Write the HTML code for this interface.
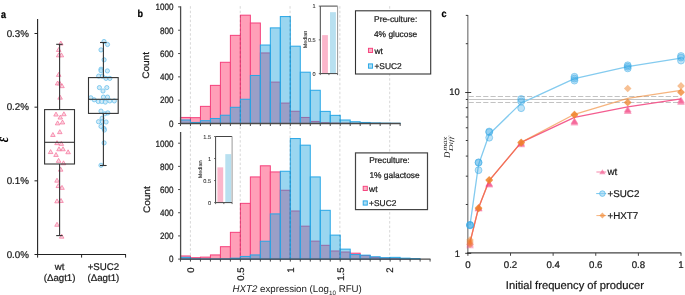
<!DOCTYPE html>
<html><head><meta charset="utf-8"><style>
html,body{margin:0;padding:0;background:#fff;}
svg{display:block;}
#w{will-change:transform;width:685px;height:295px;overflow:hidden;}
</style></head><body><div id="w">
<svg width="685" height="295" viewBox="0 0 685 295" font-family='"Liberation Sans", sans-serif' text-rendering="geometricPrecision">
<rect width="685" height="295" fill="#fff"/>
<text transform="translate(1.10,17.50) scale(1.0,1.18)" font-size="9" fill="#000" stroke="#000" stroke-width="0.22" font-weight="bold">a</text>
<line x1="37.6" y1="19" x2="37.6" y2="254.5" stroke="#222" stroke-width="1.1"/>
<line x1="37" y1="254.5" x2="126" y2="254.5" stroke="#222" stroke-width="1.1"/>
<line x1="37.6" y1="254.5" x2="37.6" y2="257.6" stroke="#222" stroke-width="1"/>
<line x1="81.6" y1="254.5" x2="81.6" y2="257.6" stroke="#222" stroke-width="1"/>
<line x1="125.6" y1="254.5" x2="125.6" y2="257.6" stroke="#222" stroke-width="1"/>
<line x1="34.5" y1="33.49" x2="37.6" y2="33.49" stroke="#222" stroke-width="1"/>
<text transform="translate(29.00,36.79)" font-size="9.8" text-anchor="end" fill="#1a1a1a" stroke="#1a1a1a" stroke-width="0.22">0.3%</text>
<line x1="34.5" y1="107.16" x2="37.6" y2="107.16" stroke="#222" stroke-width="1"/>
<text transform="translate(29.00,110.46)" font-size="9.8" text-anchor="end" fill="#1a1a1a" stroke="#1a1a1a" stroke-width="0.22">0.2%</text>
<line x1="34.5" y1="180.83" x2="37.6" y2="180.83" stroke="#222" stroke-width="1"/>
<text transform="translate(29.00,184.13)" font-size="9.8" text-anchor="end" fill="#1a1a1a" stroke="#1a1a1a" stroke-width="0.22">0.1%</text>
<line x1="34.5" y1="254.50" x2="37.6" y2="254.50" stroke="#222" stroke-width="1"/>
<text transform="translate(29.00,257.80)" font-size="9.8" text-anchor="end" fill="#1a1a1a" stroke="#1a1a1a" stroke-width="0.22">0.0%</text>
<text transform="translate(7.9,139.5) rotate(-90) scale(1,1.35)" font-size="13" font-style="italic" font-weight="bold" text-anchor="middle" fill="#000" font-family="Liberation Serif, serif">ε</text>
<text transform="translate(59.60,269.90)" font-size="9.7" text-anchor="middle" fill="#1a1a1a" stroke="#1a1a1a" stroke-width="0.22">wt</text>
<text transform="translate(59.60,280.90)" font-size="9.7" text-anchor="middle" fill="#1a1a1a" stroke="#1a1a1a" stroke-width="0.22">(Δagt1)</text>
<text transform="translate(103.40,269.90)" font-size="9.7" text-anchor="middle" fill="#1a1a1a" stroke="#1a1a1a" stroke-width="0.22">+SUC2</text>
<text transform="translate(103.40,280.90)" font-size="9.7" text-anchor="middle" fill="#1a1a1a" stroke="#1a1a1a" stroke-width="0.22">(Δagt1)</text>
<path d="M60.80,41.10 L63.08,45.06 L58.52,45.06 Z" fill="#f9c3d3" fill-opacity="0.7" stroke="#f5709a" stroke-width="0.7"/>
<path d="M58.70,47.50 L60.98,51.46 L56.42,51.46 Z" fill="#f9c3d3" fill-opacity="0.7" stroke="#f5709a" stroke-width="0.7"/>
<path d="M58.70,52.90 L60.98,56.86 L56.42,56.86 Z" fill="#f9c3d3" fill-opacity="0.7" stroke="#f5709a" stroke-width="0.7"/>
<path d="M61.40,52.90 L63.68,56.86 L59.12,56.86 Z" fill="#f9c3d3" fill-opacity="0.7" stroke="#f5709a" stroke-width="0.7"/>
<path d="M58.70,72.40 L60.98,76.36 L56.42,76.36 Z" fill="#f9c3d3" fill-opacity="0.7" stroke="#f5709a" stroke-width="0.7"/>
<path d="M59.60,80.90 L61.88,84.86 L57.32,84.86 Z" fill="#f9c3d3" fill-opacity="0.7" stroke="#f5709a" stroke-width="0.7"/>
<path d="M57.60,81.00 L59.88,84.96 L55.32,84.96 Z" fill="#f9c3d3" fill-opacity="0.7" stroke="#f5709a" stroke-width="0.7"/>
<path d="M62.00,83.70 L64.28,87.66 L59.72,87.66 Z" fill="#f9c3d3" fill-opacity="0.7" stroke="#f5709a" stroke-width="0.7"/>
<path d="M60.10,95.20 L62.38,99.16 L57.82,99.16 Z" fill="#f9c3d3" fill-opacity="0.7" stroke="#f5709a" stroke-width="0.7"/>
<path d="M56.00,112.10 L58.28,116.06 L53.72,116.06 Z" fill="#f9c3d3" fill-opacity="0.7" stroke="#f5709a" stroke-width="0.7"/>
<path d="M63.90,111.80 L66.18,115.76 L61.62,115.76 Z" fill="#f9c3d3" fill-opacity="0.7" stroke="#f5709a" stroke-width="0.7"/>
<path d="M60.30,115.10 L62.58,119.06 L58.02,119.06 Z" fill="#f9c3d3" fill-opacity="0.7" stroke="#f5709a" stroke-width="0.7"/>
<path d="M57.60,120.90 L59.88,124.86 L55.32,124.86 Z" fill="#f9c3d3" fill-opacity="0.7" stroke="#f5709a" stroke-width="0.7"/>
<path d="M62.50,120.00 L64.78,123.96 L60.22,123.96 Z" fill="#f9c3d3" fill-opacity="0.7" stroke="#f5709a" stroke-width="0.7"/>
<path d="M59.80,129.70 L62.08,133.66 L57.52,133.66 Z" fill="#f9c3d3" fill-opacity="0.7" stroke="#f5709a" stroke-width="0.7"/>
<path d="M52.90,132.50 L55.18,136.46 L50.62,136.46 Z" fill="#f9c3d3" fill-opacity="0.7" stroke="#f5709a" stroke-width="0.7"/>
<path d="M57.00,140.70 L59.28,144.66 L54.72,144.66 Z" fill="#f9c3d3" fill-opacity="0.7" stroke="#f5709a" stroke-width="0.7"/>
<path d="M61.30,141.40 L63.58,145.36 L59.02,145.36 Z" fill="#f9c3d3" fill-opacity="0.7" stroke="#f5709a" stroke-width="0.7"/>
<path d="M59.00,146.80 L61.28,150.76 L56.72,150.76 Z" fill="#f9c3d3" fill-opacity="0.7" stroke="#f5709a" stroke-width="0.7"/>
<path d="M63.00,146.80 L65.28,150.76 L60.72,150.76 Z" fill="#f9c3d3" fill-opacity="0.7" stroke="#f5709a" stroke-width="0.7"/>
<path d="M50.60,149.60 L52.88,153.56 L48.32,153.56 Z" fill="#f9c3d3" fill-opacity="0.7" stroke="#f5709a" stroke-width="0.7"/>
<path d="M56.00,152.50 L58.28,156.46 L53.72,156.46 Z" fill="#f9c3d3" fill-opacity="0.7" stroke="#f5709a" stroke-width="0.7"/>
<path d="M68.10,149.80 L70.38,153.76 L65.82,153.76 Z" fill="#f9c3d3" fill-opacity="0.7" stroke="#f5709a" stroke-width="0.7"/>
<path d="M58.60,158.40 L60.88,162.36 L56.32,162.36 Z" fill="#f9c3d3" fill-opacity="0.7" stroke="#f5709a" stroke-width="0.7"/>
<path d="M63.50,160.80 L65.78,164.76 L61.22,164.76 Z" fill="#f9c3d3" fill-opacity="0.7" stroke="#f5709a" stroke-width="0.7"/>
<path d="M60.70,167.20 L62.98,171.16 L58.42,171.16 Z" fill="#f9c3d3" fill-opacity="0.7" stroke="#f5709a" stroke-width="0.7"/>
<path d="M57.00,178.20 L59.28,182.16 L54.72,182.16 Z" fill="#f9c3d3" fill-opacity="0.7" stroke="#f5709a" stroke-width="0.7"/>
<path d="M58.30,183.60 L60.58,187.56 L56.02,187.56 Z" fill="#f9c3d3" fill-opacity="0.7" stroke="#f5709a" stroke-width="0.7"/>
<path d="M62.00,185.40 L64.28,189.36 L59.72,189.36 Z" fill="#f9c3d3" fill-opacity="0.7" stroke="#f5709a" stroke-width="0.7"/>
<path d="M57.00,198.90 L59.28,202.86 L54.72,202.86 Z" fill="#f9c3d3" fill-opacity="0.7" stroke="#f5709a" stroke-width="0.7"/>
<path d="M61.00,198.50 L63.28,202.46 L58.72,202.46 Z" fill="#f9c3d3" fill-opacity="0.7" stroke="#f5709a" stroke-width="0.7"/>
<path d="M57.00,222.30 L59.28,226.26 L54.72,226.26 Z" fill="#f9c3d3" fill-opacity="0.7" stroke="#f5709a" stroke-width="0.7"/>
<path d="M61.70,234.20 L63.98,238.16 L59.42,238.16 Z" fill="#f9c3d3" fill-opacity="0.7" stroke="#f5709a" stroke-width="0.7"/>
<circle cx="104" cy="41.5" r="2.1" fill="#bfe3f5" fill-opacity="0.7" stroke="#5cbaea" stroke-width="0.7"/>
<circle cx="107.5" cy="44.5" r="2.1" fill="#bfe3f5" fill-opacity="0.7" stroke="#5cbaea" stroke-width="0.7"/>
<circle cx="101" cy="49.9" r="2.1" fill="#bfe3f5" fill-opacity="0.7" stroke="#5cbaea" stroke-width="0.7"/>
<circle cx="104.1" cy="59.8" r="2.1" fill="#bfe3f5" fill-opacity="0.7" stroke="#5cbaea" stroke-width="0.7"/>
<circle cx="101" cy="69.2" r="2.1" fill="#bfe3f5" fill-opacity="0.7" stroke="#5cbaea" stroke-width="0.7"/>
<circle cx="107.4" cy="70.9" r="2.1" fill="#bfe3f5" fill-opacity="0.7" stroke="#5cbaea" stroke-width="0.7"/>
<circle cx="101" cy="70.7" r="2.1" fill="#bfe3f5" fill-opacity="0.7" stroke="#5cbaea" stroke-width="0.7"/>
<circle cx="98.7" cy="76.1" r="2.1" fill="#bfe3f5" fill-opacity="0.7" stroke="#5cbaea" stroke-width="0.7"/>
<circle cx="102.3" cy="76.1" r="2.1" fill="#bfe3f5" fill-opacity="0.7" stroke="#5cbaea" stroke-width="0.7"/>
<circle cx="106" cy="78.4" r="2.1" fill="#bfe3f5" fill-opacity="0.7" stroke="#5cbaea" stroke-width="0.7"/>
<circle cx="109.8" cy="78.4" r="2.1" fill="#bfe3f5" fill-opacity="0.7" stroke="#5cbaea" stroke-width="0.7"/>
<circle cx="99.4" cy="87.6" r="2.1" fill="#bfe3f5" fill-opacity="0.7" stroke="#5cbaea" stroke-width="0.7"/>
<circle cx="106.8" cy="87.6" r="2.1" fill="#bfe3f5" fill-opacity="0.7" stroke="#5cbaea" stroke-width="0.7"/>
<circle cx="103" cy="91" r="2.1" fill="#bfe3f5" fill-opacity="0.7" stroke="#5cbaea" stroke-width="0.7"/>
<circle cx="90.8" cy="97.8" r="2.1" fill="#bfe3f5" fill-opacity="0.7" stroke="#5cbaea" stroke-width="0.7"/>
<circle cx="94.2" cy="99.8" r="2.1" fill="#bfe3f5" fill-opacity="0.7" stroke="#5cbaea" stroke-width="0.7"/>
<circle cx="103.4" cy="97.1" r="2.1" fill="#bfe3f5" fill-opacity="0.7" stroke="#5cbaea" stroke-width="0.7"/>
<circle cx="107.5" cy="97.1" r="2.1" fill="#bfe3f5" fill-opacity="0.7" stroke="#5cbaea" stroke-width="0.7"/>
<circle cx="98.3" cy="101.5" r="2.1" fill="#bfe3f5" fill-opacity="0.7" stroke="#5cbaea" stroke-width="0.7"/>
<circle cx="101.7" cy="101.5" r="2.1" fill="#bfe3f5" fill-opacity="0.7" stroke="#5cbaea" stroke-width="0.7"/>
<circle cx="105.3" cy="102.1" r="2.1" fill="#bfe3f5" fill-opacity="0.7" stroke="#5cbaea" stroke-width="0.7"/>
<circle cx="109.8" cy="100.9" r="2.1" fill="#bfe3f5" fill-opacity="0.7" stroke="#5cbaea" stroke-width="0.7"/>
<circle cx="114.3" cy="100.9" r="2.1" fill="#bfe3f5" fill-opacity="0.7" stroke="#5cbaea" stroke-width="0.7"/>
<circle cx="101" cy="111.1" r="2.1" fill="#bfe3f5" fill-opacity="0.7" stroke="#5cbaea" stroke-width="0.7"/>
<circle cx="104.8" cy="113.8" r="2.1" fill="#bfe3f5" fill-opacity="0.7" stroke="#5cbaea" stroke-width="0.7"/>
<circle cx="107.8" cy="112.9" r="2.1" fill="#bfe3f5" fill-opacity="0.7" stroke="#5cbaea" stroke-width="0.7"/>
<circle cx="102.1" cy="118.3" r="2.1" fill="#bfe3f5" fill-opacity="0.7" stroke="#5cbaea" stroke-width="0.7"/>
<circle cx="98.5" cy="121.7" r="2.1" fill="#bfe3f5" fill-opacity="0.7" stroke="#5cbaea" stroke-width="0.7"/>
<circle cx="102.3" cy="121.7" r="2.1" fill="#bfe3f5" fill-opacity="0.7" stroke="#5cbaea" stroke-width="0.7"/>
<circle cx="106.1" cy="122" r="2.1" fill="#bfe3f5" fill-opacity="0.7" stroke="#5cbaea" stroke-width="0.7"/>
<circle cx="101" cy="126.4" r="2.1" fill="#bfe3f5" fill-opacity="0.7" stroke="#5cbaea" stroke-width="0.7"/>
<circle cx="104" cy="128.5" r="2.1" fill="#bfe3f5" fill-opacity="0.7" stroke="#5cbaea" stroke-width="0.7"/>
<circle cx="104.4" cy="130" r="2.1" fill="#bfe3f5" fill-opacity="0.7" stroke="#5cbaea" stroke-width="0.7"/>
<circle cx="104.1" cy="142.9" r="2.1" fill="#bfe3f5" fill-opacity="0.7" stroke="#5cbaea" stroke-width="0.7"/>
<circle cx="101" cy="165.3" r="2.1" fill="#bfe3f5" fill-opacity="0.7" stroke="#5cbaea" stroke-width="0.7"/>
<line x1="59.6" y1="44.3" x2="59.6" y2="109.6" stroke="#333" stroke-width="1.1"/>
<line x1="59.6" y1="164.0" x2="59.6" y2="235.6" stroke="#333" stroke-width="1.1"/>
<line x1="56.2" y1="44.3" x2="62.6" y2="44.3" stroke="#333" stroke-width="1.1"/>
<line x1="56.2" y1="235.6" x2="62.6" y2="235.6" stroke="#333" stroke-width="1.1"/>
<rect x="44.6" y="109.6" width="29.9" height="54.400000000000006" fill="none" stroke="#333" stroke-width="1.1"/>
<line x1="44.6" y1="142.3" x2="74.5" y2="142.3" stroke="#333" stroke-width="1.1"/>
<line x1="103.4" y1="42.5" x2="103.4" y2="77.6" stroke="#333" stroke-width="1.1"/>
<line x1="103.4" y1="113.4" x2="103.4" y2="165.5" stroke="#333" stroke-width="1.1"/>
<line x1="100.0" y1="42.5" x2="106.6" y2="42.5" stroke="#333" stroke-width="1.1"/>
<line x1="100.0" y1="165.5" x2="106.6" y2="165.5" stroke="#333" stroke-width="1.1"/>
<rect x="88.5" y="77.6" width="29.700000000000003" height="35.80000000000001" fill="none" stroke="#333" stroke-width="1.1"/>
<line x1="88.5" y1="99.3" x2="118.2" y2="99.3" stroke="#333" stroke-width="1.1"/>
<text transform="translate(137.60,17.20) scale(1.0,1.12)" font-size="9" fill="#000" stroke="#000" stroke-width="0.22" font-weight="bold">b</text>
<rect x="180.46" y="117.44" width="9.98" height="6.06" fill="#ff9fb8" stroke="#f5407c" stroke-width="1"/>
<rect x="190.45" y="117.67" width="9.98" height="5.83" fill="#ff9fb8" stroke="#f5407c" stroke-width="1"/>
<rect x="200.44" y="106.36" width="9.98" height="17.14" fill="#ff9fb8" stroke="#f5407c" stroke-width="1"/>
<rect x="210.42" y="85.37" width="9.98" height="38.13" fill="#ff9fb8" stroke="#f5407c" stroke-width="1"/>
<rect x="220.41" y="62.29" width="9.98" height="61.21" fill="#ff9fb8" stroke="#f5407c" stroke-width="1"/>
<rect x="230.39" y="35.35" width="9.98" height="88.15" fill="#ff9fb8" stroke="#f5407c" stroke-width="1"/>
<rect x="240.38" y="15.18" width="9.98" height="108.32" fill="#ff9fb8" stroke="#f5407c" stroke-width="1"/>
<rect x="250.36" y="22.99" width="9.98" height="100.51" fill="#ff9fb8" stroke="#f5407c" stroke-width="1"/>
<rect x="260.34" y="52.96" width="9.98" height="70.54" fill="#ff9fb8" stroke="#f5407c" stroke-width="1"/>
<rect x="270.33" y="82.11" width="9.98" height="41.39" fill="#ff9fb8" stroke="#f5407c" stroke-width="1"/>
<rect x="280.31" y="103.09" width="9.98" height="20.40" fill="#ff9fb8" stroke="#f5407c" stroke-width="1"/>
<rect x="290.30" y="111.26" width="9.98" height="12.24" fill="#ff9fb8" stroke="#f5407c" stroke-width="1"/>
<rect x="300.28" y="117.44" width="9.98" height="6.06" fill="#ff9fb8" stroke="#f5407c" stroke-width="1"/>
<rect x="310.27" y="121.40" width="9.98" height="2.10" fill="#ff9fb8" stroke="#f5407c" stroke-width="1"/>
<rect x="320.25" y="122.80" width="9.98" height="0.70" fill="#ff9fb8" stroke="#f5407c" stroke-width="1"/>
<rect x="330.24" y="123.15" width="9.98" height="0.35" fill="#ff9fb8" stroke="#f5407c" stroke-width="1"/>
<rect x="340.22" y="123.27" width="9.98" height="0.23" fill="#ff9fb8" stroke="#f5407c" stroke-width="1"/>
<rect x="350.21" y="123.38" width="9.98" height="0.12" fill="#ff9fb8" stroke="#f5407c" stroke-width="1"/>
<rect x="180.46" y="120.00" width="9.98" height="3.50" fill="rgb(22,160,220)" fill-opacity="0.43" stroke="#27a6e6" stroke-width="1"/>
<rect x="190.45" y="122.45" width="9.98" height="1.05" fill="rgb(22,160,220)" fill-opacity="0.43" stroke="#27a6e6" stroke-width="1"/>
<rect x="200.44" y="120.70" width="9.98" height="2.80" fill="rgb(22,160,220)" fill-opacity="0.43" stroke="#27a6e6" stroke-width="1"/>
<rect x="210.42" y="118.49" width="9.98" height="5.01" fill="rgb(22,160,220)" fill-opacity="0.43" stroke="#27a6e6" stroke-width="1"/>
<rect x="220.41" y="115.22" width="9.98" height="8.28" fill="rgb(22,160,220)" fill-opacity="0.43" stroke="#27a6e6" stroke-width="1"/>
<rect x="230.39" y="107.29" width="9.98" height="16.21" fill="rgb(22,160,220)" fill-opacity="0.43" stroke="#27a6e6" stroke-width="1"/>
<rect x="240.38" y="99.25" width="9.98" height="24.25" fill="rgb(22,160,220)" fill-opacity="0.43" stroke="#27a6e6" stroke-width="1"/>
<rect x="250.36" y="75.46" width="9.98" height="48.04" fill="rgb(22,160,220)" fill-opacity="0.43" stroke="#27a6e6" stroke-width="1"/>
<rect x="260.34" y="45.03" width="9.98" height="78.47" fill="rgb(22,160,220)" fill-opacity="0.43" stroke="#27a6e6" stroke-width="1"/>
<rect x="270.33" y="27.89" width="9.98" height="95.61" fill="rgb(22,160,220)" fill-opacity="0.43" stroke="#27a6e6" stroke-width="1"/>
<rect x="280.31" y="16.58" width="9.98" height="106.92" fill="rgb(22,160,220)" fill-opacity="0.43" stroke="#27a6e6" stroke-width="1"/>
<rect x="290.30" y="46.19" width="9.98" height="77.31" fill="rgb(22,160,220)" fill-opacity="0.43" stroke="#27a6e6" stroke-width="1"/>
<rect x="300.28" y="72.20" width="9.98" height="51.30" fill="rgb(22,160,220)" fill-opacity="0.43" stroke="#27a6e6" stroke-width="1"/>
<rect x="310.27" y="90.27" width="9.98" height="33.23" fill="rgb(22,160,220)" fill-opacity="0.43" stroke="#27a6e6" stroke-width="1"/>
<rect x="320.25" y="111.37" width="9.98" height="12.13" fill="rgb(22,160,220)" fill-opacity="0.43" stroke="#27a6e6" stroke-width="1"/>
<rect x="330.24" y="115.34" width="9.98" height="8.16" fill="rgb(22,160,220)" fill-opacity="0.43" stroke="#27a6e6" stroke-width="1"/>
<rect x="340.22" y="120.00" width="9.98" height="3.50" fill="rgb(22,160,220)" fill-opacity="0.43" stroke="#27a6e6" stroke-width="1"/>
<rect x="350.21" y="121.75" width="9.98" height="1.75" fill="rgb(22,160,220)" fill-opacity="0.43" stroke="#27a6e6" stroke-width="1"/>
<rect x="360.19" y="122.45" width="9.98" height="1.05" fill="rgb(22,160,220)" fill-opacity="0.43" stroke="#27a6e6" stroke-width="1"/>
<rect x="370.18" y="122.92" width="9.98" height="0.58" fill="rgb(22,160,220)" fill-opacity="0.43" stroke="#27a6e6" stroke-width="1"/>
<rect x="380.16" y="123.15" width="9.98" height="0.35" fill="rgb(22,160,220)" fill-opacity="0.43" stroke="#27a6e6" stroke-width="1"/>
<rect x="390.15" y="123.27" width="9.98" height="0.23" fill="rgb(22,160,220)" fill-opacity="0.43" stroke="#27a6e6" stroke-width="1"/>
<line x1="190.40" y1="6.2" x2="190.40" y2="123.5" stroke="#000" stroke-opacity="0.16" stroke-width="1" stroke-dasharray="2.5,2"/>
<line x1="240.23" y1="6.2" x2="240.23" y2="123.5" stroke="#000" stroke-opacity="0.16" stroke-width="1" stroke-dasharray="2.5,2"/>
<line x1="290.05" y1="6.2" x2="290.05" y2="123.5" stroke="#000" stroke-opacity="0.16" stroke-width="1" stroke-dasharray="2.5,2"/>
<line x1="339.88" y1="6.2" x2="339.88" y2="123.5" stroke="#000" stroke-opacity="0.16" stroke-width="1" stroke-dasharray="2.5,2"/>
<line x1="389.70" y1="6.2" x2="389.70" y2="123.5" stroke="#000" stroke-opacity="0.16" stroke-width="1" stroke-dasharray="2.5,2"/>
<line x1="180.6" y1="6.3" x2="180.6" y2="123.5" stroke="#4a4a4a" stroke-width="1.3"/>
<line x1="180.0" y1="123.5" x2="400.53" y2="123.5" stroke="#4a4a4a" stroke-width="1.3"/>
<line x1="180.46" y1="123.5" x2="180.46" y2="126.0" stroke="#4a4a4a" stroke-width="1"/>
<line x1="190.45" y1="123.5" x2="190.45" y2="126.0" stroke="#4a4a4a" stroke-width="1"/>
<line x1="200.44" y1="123.5" x2="200.44" y2="126.0" stroke="#4a4a4a" stroke-width="1"/>
<line x1="210.42" y1="123.5" x2="210.42" y2="126.0" stroke="#4a4a4a" stroke-width="1"/>
<line x1="220.41" y1="123.5" x2="220.41" y2="126.0" stroke="#4a4a4a" stroke-width="1"/>
<line x1="230.39" y1="123.5" x2="230.39" y2="126.0" stroke="#4a4a4a" stroke-width="1"/>
<line x1="240.38" y1="123.5" x2="240.38" y2="126.0" stroke="#4a4a4a" stroke-width="1"/>
<line x1="250.36" y1="123.5" x2="250.36" y2="126.0" stroke="#4a4a4a" stroke-width="1"/>
<line x1="260.34" y1="123.5" x2="260.34" y2="126.0" stroke="#4a4a4a" stroke-width="1"/>
<line x1="270.33" y1="123.5" x2="270.33" y2="126.0" stroke="#4a4a4a" stroke-width="1"/>
<line x1="280.31" y1="123.5" x2="280.31" y2="126.0" stroke="#4a4a4a" stroke-width="1"/>
<line x1="290.30" y1="123.5" x2="290.30" y2="126.0" stroke="#4a4a4a" stroke-width="1"/>
<line x1="300.28" y1="123.5" x2="300.28" y2="126.0" stroke="#4a4a4a" stroke-width="1"/>
<line x1="310.27" y1="123.5" x2="310.27" y2="126.0" stroke="#4a4a4a" stroke-width="1"/>
<line x1="320.25" y1="123.5" x2="320.25" y2="126.0" stroke="#4a4a4a" stroke-width="1"/>
<line x1="330.24" y1="123.5" x2="330.24" y2="126.0" stroke="#4a4a4a" stroke-width="1"/>
<line x1="340.22" y1="123.5" x2="340.22" y2="126.0" stroke="#4a4a4a" stroke-width="1"/>
<line x1="350.21" y1="123.5" x2="350.21" y2="126.0" stroke="#4a4a4a" stroke-width="1"/>
<line x1="360.19" y1="123.5" x2="360.19" y2="126.0" stroke="#4a4a4a" stroke-width="1"/>
<line x1="370.18" y1="123.5" x2="370.18" y2="126.0" stroke="#4a4a4a" stroke-width="1"/>
<line x1="380.16" y1="123.5" x2="380.16" y2="126.0" stroke="#4a4a4a" stroke-width="1"/>
<line x1="390.15" y1="123.5" x2="390.15" y2="126.0" stroke="#4a4a4a" stroke-width="1"/>
<line x1="400.13" y1="123.5" x2="400.13" y2="126.0" stroke="#4a4a4a" stroke-width="1"/>
<line x1="178.1" y1="123.50" x2="180.6" y2="123.50" stroke="#4a4a4a" stroke-width="1"/>
<text transform="translate(173.60,126.80) scale(0.92,1.05)" font-size="8.8" text-anchor="end" fill="#1a1a1a" stroke="#1a1a1a" stroke-width="0.22">0</text>
<line x1="178.1" y1="100.18" x2="180.6" y2="100.18" stroke="#4a4a4a" stroke-width="1"/>
<text transform="translate(173.60,103.48) scale(0.92,1.05)" font-size="8.8" text-anchor="end" fill="#1a1a1a" stroke="#1a1a1a" stroke-width="0.22">200</text>
<line x1="178.1" y1="76.86" x2="180.6" y2="76.86" stroke="#4a4a4a" stroke-width="1"/>
<text transform="translate(173.60,80.16) scale(0.92,1.05)" font-size="8.8" text-anchor="end" fill="#1a1a1a" stroke="#1a1a1a" stroke-width="0.22">400</text>
<line x1="178.1" y1="53.54" x2="180.6" y2="53.54" stroke="#4a4a4a" stroke-width="1"/>
<text transform="translate(173.60,56.84) scale(0.92,1.05)" font-size="8.8" text-anchor="end" fill="#1a1a1a" stroke="#1a1a1a" stroke-width="0.22">600</text>
<line x1="178.1" y1="30.22" x2="180.6" y2="30.22" stroke="#4a4a4a" stroke-width="1"/>
<text transform="translate(173.60,33.52) scale(0.92,1.05)" font-size="8.8" text-anchor="end" fill="#1a1a1a" stroke="#1a1a1a" stroke-width="0.22">800</text>
<line x1="178.1" y1="6.90" x2="180.6" y2="6.90" stroke="#4a4a4a" stroke-width="1"/>
<text transform="translate(173.60,10.20) scale(0.92,1.05)" font-size="8.8" text-anchor="end" fill="#1a1a1a" stroke="#1a1a1a" stroke-width="0.22">1000</text>
<rect x="180.46" y="255.97" width="9.98" height="3.13" fill="#ff9fb8" stroke="#f5407c" stroke-width="1"/>
<rect x="190.45" y="257.71" width="9.98" height="1.39" fill="#ff9fb8" stroke="#f5407c" stroke-width="1"/>
<rect x="200.44" y="257.13" width="9.98" height="1.97" fill="#ff9fb8" stroke="#f5407c" stroke-width="1"/>
<rect x="210.42" y="254.93" width="9.98" height="4.17" fill="#ff9fb8" stroke="#f5407c" stroke-width="1"/>
<rect x="220.41" y="246.70" width="9.98" height="12.40" fill="#ff9fb8" stroke="#f5407c" stroke-width="1"/>
<rect x="230.39" y="232.33" width="9.98" height="26.77" fill="#ff9fb8" stroke="#f5407c" stroke-width="1"/>
<rect x="240.38" y="203.35" width="9.98" height="55.75" fill="#ff9fb8" stroke="#f5407c" stroke-width="1"/>
<rect x="250.36" y="176.93" width="9.98" height="82.17" fill="#ff9fb8" stroke="#f5407c" stroke-width="1"/>
<rect x="260.34" y="165.80" width="9.98" height="93.30" fill="#ff9fb8" stroke="#f5407c" stroke-width="1"/>
<rect x="270.33" y="171.94" width="9.98" height="87.16" fill="#ff9fb8" stroke="#f5407c" stroke-width="1"/>
<rect x="280.31" y="190.26" width="9.98" height="68.84" fill="#ff9fb8" stroke="#f5407c" stroke-width="1"/>
<rect x="290.30" y="211.00" width="9.98" height="48.10" fill="#ff9fb8" stroke="#f5407c" stroke-width="1"/>
<rect x="300.28" y="226.18" width="9.98" height="32.92" fill="#ff9fb8" stroke="#f5407c" stroke-width="1"/>
<rect x="310.27" y="241.14" width="9.98" height="17.96" fill="#ff9fb8" stroke="#f5407c" stroke-width="1"/>
<rect x="320.25" y="245.31" width="9.98" height="13.79" fill="#ff9fb8" stroke="#f5407c" stroke-width="1"/>
<rect x="330.24" y="250.99" width="9.98" height="8.11" fill="#ff9fb8" stroke="#f5407c" stroke-width="1"/>
<rect x="340.22" y="252.03" width="9.98" height="7.07" fill="#ff9fb8" stroke="#f5407c" stroke-width="1"/>
<rect x="350.21" y="253.19" width="9.98" height="5.91" fill="#ff9fb8" stroke="#f5407c" stroke-width="1"/>
<rect x="360.19" y="255.51" width="9.98" height="3.59" fill="#ff9fb8" stroke="#f5407c" stroke-width="1"/>
<rect x="370.18" y="257.36" width="9.98" height="1.74" fill="#ff9fb8" stroke="#f5407c" stroke-width="1"/>
<rect x="380.16" y="258.17" width="9.98" height="0.93" fill="#ff9fb8" stroke="#f5407c" stroke-width="1"/>
<rect x="390.15" y="258.64" width="9.98" height="0.46" fill="#ff9fb8" stroke="#f5407c" stroke-width="1"/>
<rect x="400.13" y="258.87" width="9.98" height="0.23" fill="#ff9fb8" stroke="#f5407c" stroke-width="1"/>
<rect x="180.46" y="257.36" width="9.98" height="1.74" fill="rgb(22,160,220)" fill-opacity="0.43" stroke="#27a6e6" stroke-width="1"/>
<rect x="190.45" y="258.87" width="9.98" height="0.23" fill="rgb(22,160,220)" fill-opacity="0.43" stroke="#27a6e6" stroke-width="1"/>
<rect x="200.44" y="258.98" width="9.98" height="0.12" fill="rgb(22,160,220)" fill-opacity="0.43" stroke="#27a6e6" stroke-width="1"/>
<rect x="210.42" y="258.98" width="9.98" height="0.12" fill="rgb(22,160,220)" fill-opacity="0.43" stroke="#27a6e6" stroke-width="1"/>
<rect x="220.41" y="258.87" width="9.98" height="0.23" fill="rgb(22,160,220)" fill-opacity="0.43" stroke="#27a6e6" stroke-width="1"/>
<rect x="230.39" y="258.17" width="9.98" height="0.93" fill="rgb(22,160,220)" fill-opacity="0.43" stroke="#27a6e6" stroke-width="1"/>
<rect x="240.38" y="256.43" width="9.98" height="2.67" fill="rgb(22,160,220)" fill-opacity="0.43" stroke="#27a6e6" stroke-width="1"/>
<rect x="250.36" y="254.93" width="9.98" height="4.17" fill="rgb(22,160,220)" fill-opacity="0.43" stroke="#27a6e6" stroke-width="1"/>
<rect x="260.34" y="241.25" width="9.98" height="17.85" fill="rgb(22,160,220)" fill-opacity="0.43" stroke="#27a6e6" stroke-width="1"/>
<rect x="270.33" y="213.90" width="9.98" height="45.20" fill="rgb(22,160,220)" fill-opacity="0.43" stroke="#27a6e6" stroke-width="1"/>
<rect x="280.31" y="171.25" width="9.98" height="87.85" fill="rgb(22,160,220)" fill-opacity="0.43" stroke="#27a6e6" stroke-width="1"/>
<rect x="290.30" y="138.56" width="9.98" height="120.54" fill="rgb(22,160,220)" fill-opacity="0.43" stroke="#27a6e6" stroke-width="1"/>
<rect x="300.28" y="145.17" width="9.98" height="113.93" fill="rgb(22,160,220)" fill-opacity="0.43" stroke="#27a6e6" stroke-width="1"/>
<rect x="310.27" y="176.93" width="9.98" height="82.17" fill="rgb(22,160,220)" fill-opacity="0.43" stroke="#27a6e6" stroke-width="1"/>
<rect x="320.25" y="210.31" width="9.98" height="48.79" fill="rgb(22,160,220)" fill-opacity="0.43" stroke="#27a6e6" stroke-width="1"/>
<rect x="330.24" y="235.11" width="9.98" height="23.99" fill="rgb(22,160,220)" fill-opacity="0.43" stroke="#27a6e6" stroke-width="1"/>
<rect x="340.22" y="249.13" width="9.98" height="9.97" fill="rgb(22,160,220)" fill-opacity="0.43" stroke="#27a6e6" stroke-width="1"/>
<rect x="350.21" y="254.58" width="9.98" height="4.52" fill="rgb(22,160,220)" fill-opacity="0.43" stroke="#27a6e6" stroke-width="1"/>
<rect x="360.19" y="255.16" width="9.98" height="3.94" fill="rgb(22,160,220)" fill-opacity="0.43" stroke="#27a6e6" stroke-width="1"/>
<rect x="370.18" y="256.78" width="9.98" height="2.32" fill="rgb(22,160,220)" fill-opacity="0.43" stroke="#27a6e6" stroke-width="1"/>
<rect x="380.16" y="257.71" width="9.98" height="1.39" fill="rgb(22,160,220)" fill-opacity="0.43" stroke="#27a6e6" stroke-width="1"/>
<rect x="390.15" y="257.36" width="9.98" height="1.74" fill="rgb(22,160,220)" fill-opacity="0.43" stroke="#27a6e6" stroke-width="1"/>
<rect x="400.13" y="258.17" width="9.98" height="0.93" fill="rgb(22,160,220)" fill-opacity="0.43" stroke="#27a6e6" stroke-width="1"/>
<rect x="410.12" y="258.52" width="9.98" height="0.58" fill="rgb(22,160,220)" fill-opacity="0.43" stroke="#27a6e6" stroke-width="1"/>
<line x1="190.40" y1="126.6" x2="190.40" y2="259.1" stroke="#000" stroke-opacity="0.16" stroke-width="1" stroke-dasharray="2.5,2"/>
<line x1="240.23" y1="126.6" x2="240.23" y2="259.1" stroke="#000" stroke-opacity="0.16" stroke-width="1" stroke-dasharray="2.5,2"/>
<line x1="290.05" y1="126.6" x2="290.05" y2="259.1" stroke="#000" stroke-opacity="0.16" stroke-width="1" stroke-dasharray="2.5,2"/>
<line x1="339.88" y1="126.6" x2="339.88" y2="259.1" stroke="#000" stroke-opacity="0.16" stroke-width="1" stroke-dasharray="2.5,2"/>
<line x1="389.70" y1="126.6" x2="389.70" y2="259.1" stroke="#000" stroke-opacity="0.16" stroke-width="1" stroke-dasharray="2.5,2"/>
<line x1="180.6" y1="132.0" x2="180.6" y2="259.1" stroke="#4a4a4a" stroke-width="1.3"/>
<line x1="180.0" y1="259.1" x2="430.49" y2="259.1" stroke="#4a4a4a" stroke-width="1.3"/>
<line x1="180.46" y1="259.1" x2="180.46" y2="261.6" stroke="#4a4a4a" stroke-width="1"/>
<line x1="190.45" y1="259.1" x2="190.45" y2="261.6" stroke="#4a4a4a" stroke-width="1"/>
<line x1="200.44" y1="259.1" x2="200.44" y2="261.6" stroke="#4a4a4a" stroke-width="1"/>
<line x1="210.42" y1="259.1" x2="210.42" y2="261.6" stroke="#4a4a4a" stroke-width="1"/>
<line x1="220.41" y1="259.1" x2="220.41" y2="261.6" stroke="#4a4a4a" stroke-width="1"/>
<line x1="230.39" y1="259.1" x2="230.39" y2="261.6" stroke="#4a4a4a" stroke-width="1"/>
<line x1="240.38" y1="259.1" x2="240.38" y2="261.6" stroke="#4a4a4a" stroke-width="1"/>
<line x1="250.36" y1="259.1" x2="250.36" y2="261.6" stroke="#4a4a4a" stroke-width="1"/>
<line x1="260.34" y1="259.1" x2="260.34" y2="261.6" stroke="#4a4a4a" stroke-width="1"/>
<line x1="270.33" y1="259.1" x2="270.33" y2="261.6" stroke="#4a4a4a" stroke-width="1"/>
<line x1="280.31" y1="259.1" x2="280.31" y2="261.6" stroke="#4a4a4a" stroke-width="1"/>
<line x1="290.30" y1="259.1" x2="290.30" y2="261.6" stroke="#4a4a4a" stroke-width="1"/>
<line x1="300.28" y1="259.1" x2="300.28" y2="261.6" stroke="#4a4a4a" stroke-width="1"/>
<line x1="310.27" y1="259.1" x2="310.27" y2="261.6" stroke="#4a4a4a" stroke-width="1"/>
<line x1="320.25" y1="259.1" x2="320.25" y2="261.6" stroke="#4a4a4a" stroke-width="1"/>
<line x1="330.24" y1="259.1" x2="330.24" y2="261.6" stroke="#4a4a4a" stroke-width="1"/>
<line x1="340.22" y1="259.1" x2="340.22" y2="261.6" stroke="#4a4a4a" stroke-width="1"/>
<line x1="350.21" y1="259.1" x2="350.21" y2="261.6" stroke="#4a4a4a" stroke-width="1"/>
<line x1="360.19" y1="259.1" x2="360.19" y2="261.6" stroke="#4a4a4a" stroke-width="1"/>
<line x1="370.18" y1="259.1" x2="370.18" y2="261.6" stroke="#4a4a4a" stroke-width="1"/>
<line x1="380.16" y1="259.1" x2="380.16" y2="261.6" stroke="#4a4a4a" stroke-width="1"/>
<line x1="390.15" y1="259.1" x2="390.15" y2="261.6" stroke="#4a4a4a" stroke-width="1"/>
<line x1="400.13" y1="259.1" x2="400.13" y2="261.6" stroke="#4a4a4a" stroke-width="1"/>
<line x1="410.12" y1="259.1" x2="410.12" y2="261.6" stroke="#4a4a4a" stroke-width="1"/>
<line x1="420.11" y1="259.1" x2="420.11" y2="261.6" stroke="#4a4a4a" stroke-width="1"/>
<line x1="430.09" y1="259.1" x2="430.09" y2="261.6" stroke="#4a4a4a" stroke-width="1"/>
<line x1="178.1" y1="259.10" x2="180.6" y2="259.10" stroke="#4a4a4a" stroke-width="1"/>
<text transform="translate(173.60,262.40) scale(0.92,1.05)" font-size="8.8" text-anchor="end" fill="#1a1a1a" stroke="#1a1a1a" stroke-width="0.22">0</text>
<line x1="178.1" y1="235.92" x2="180.6" y2="235.92" stroke="#4a4a4a" stroke-width="1"/>
<text transform="translate(173.60,239.22) scale(0.92,1.05)" font-size="8.8" text-anchor="end" fill="#1a1a1a" stroke="#1a1a1a" stroke-width="0.22">200</text>
<line x1="178.1" y1="212.74" x2="180.6" y2="212.74" stroke="#4a4a4a" stroke-width="1"/>
<text transform="translate(173.60,216.04) scale(0.92,1.05)" font-size="8.8" text-anchor="end" fill="#1a1a1a" stroke="#1a1a1a" stroke-width="0.22">400</text>
<line x1="178.1" y1="189.56" x2="180.6" y2="189.56" stroke="#4a4a4a" stroke-width="1"/>
<text transform="translate(173.60,192.86) scale(0.92,1.05)" font-size="8.8" text-anchor="end" fill="#1a1a1a" stroke="#1a1a1a" stroke-width="0.22">600</text>
<line x1="178.1" y1="166.38" x2="180.6" y2="166.38" stroke="#4a4a4a" stroke-width="1"/>
<text transform="translate(173.60,169.68) scale(0.92,1.05)" font-size="8.8" text-anchor="end" fill="#1a1a1a" stroke="#1a1a1a" stroke-width="0.22">800</text>
<line x1="178.1" y1="143.20" x2="180.6" y2="143.20" stroke="#4a4a4a" stroke-width="1"/>
<text transform="translate(173.60,146.50) scale(0.92,1.05)" font-size="8.8" text-anchor="end" fill="#1a1a1a" stroke="#1a1a1a" stroke-width="0.22">1000</text>
<text transform="translate(149.20,65.40) rotate(-90) scale(1.07,1.0)" font-size="9.4" text-anchor="middle" fill="#1a1a1a" stroke="#1a1a1a" stroke-width="0.22">Count</text>
<text transform="translate(150.20,199.70) rotate(-90) scale(1.07,1.0)" font-size="9.4" text-anchor="middle" fill="#1a1a1a" stroke="#1a1a1a" stroke-width="0.22">Count</text>
<rect x="322.10" y="35.12" width="5.8" height="38.47" fill="#fbb6cb"/>
<rect x="330.00" y="12.17" width="5.9" height="61.43" fill="#b8e0f0"/>
<line x1="320.3" y1="6.1" x2="337.6" y2="6.1" stroke="#444" stroke-width="1"/>
<line x1="337.6" y1="6.1" x2="337.6" y2="73.6" stroke="#999" stroke-width="1"/>
<line x1="320.3" y1="6.1" x2="320.3" y2="73.6" stroke="#444" stroke-width="1"/>
<line x1="320.3" y1="73.6" x2="337.6" y2="73.6" stroke="#444" stroke-width="1"/>
<line x1="320.30" y1="73.6" x2="320.30" y2="75.1" stroke="#444" stroke-width="0.8"/>
<line x1="328.95" y1="73.6" x2="328.95" y2="75.1" stroke="#444" stroke-width="0.8"/>
<line x1="337.60" y1="73.6" x2="337.60" y2="75.1" stroke="#444" stroke-width="0.8"/>
<line x1="318.8" y1="73.60" x2="320.3" y2="73.60" stroke="#444" stroke-width="0.8"/>
<text transform="translate(315.70,75.60)" font-size="5.6" text-anchor="end" fill="#333" stroke="#333" stroke-width="0.08">0</text>
<line x1="318.8" y1="39.85" x2="320.3" y2="39.85" stroke="#444" stroke-width="0.8"/>
<text transform="translate(315.70,41.85)" font-size="5.6" text-anchor="end" fill="#333" stroke="#333" stroke-width="0.08">0.5</text>
<line x1="318.8" y1="6.10" x2="320.3" y2="6.10" stroke="#444" stroke-width="0.8"/>
<text transform="translate(315.70,8.10)" font-size="5.6" text-anchor="end" fill="#333" stroke="#333" stroke-width="0.08">1</text>
<text transform="translate(306.90,39.50) rotate(-90)" font-size="5.4" text-anchor="middle" fill="#333" stroke="#333" stroke-width="0.08">Median</text>
<rect x="217.40" y="167.35" width="5.8" height="35.25" fill="#fbb6cb"/>
<rect x="225.30" y="154.13" width="5.9" height="48.47" fill="#b8e0f0"/>
<line x1="215.6" y1="136.5" x2="232.1" y2="136.5" stroke="#444" stroke-width="1"/>
<line x1="232.1" y1="136.5" x2="232.1" y2="202.6" stroke="#999" stroke-width="1"/>
<line x1="215.6" y1="136.5" x2="215.6" y2="202.6" stroke="#444" stroke-width="1"/>
<line x1="215.6" y1="202.6" x2="232.1" y2="202.6" stroke="#444" stroke-width="1"/>
<line x1="215.60" y1="202.6" x2="215.60" y2="204.1" stroke="#444" stroke-width="0.8"/>
<line x1="223.85" y1="202.6" x2="223.85" y2="204.1" stroke="#444" stroke-width="0.8"/>
<line x1="232.10" y1="202.6" x2="232.10" y2="204.1" stroke="#444" stroke-width="0.8"/>
<line x1="214.1" y1="202.60" x2="215.6" y2="202.60" stroke="#444" stroke-width="0.8"/>
<text transform="translate(211.00,204.60)" font-size="5.6" text-anchor="end" fill="#333" stroke="#333" stroke-width="0.08">0</text>
<line x1="214.1" y1="180.57" x2="215.6" y2="180.57" stroke="#444" stroke-width="0.8"/>
<text transform="translate(211.00,182.57)" font-size="5.6" text-anchor="end" fill="#333" stroke="#333" stroke-width="0.08">0.5</text>
<line x1="214.1" y1="158.53" x2="215.6" y2="158.53" stroke="#444" stroke-width="0.8"/>
<text transform="translate(211.00,160.53)" font-size="5.6" text-anchor="end" fill="#333" stroke="#333" stroke-width="0.08">1</text>
<line x1="214.1" y1="136.50" x2="215.6" y2="136.50" stroke="#444" stroke-width="0.8"/>
<text transform="translate(211.00,138.50)" font-size="5.6" text-anchor="end" fill="#333" stroke="#333" stroke-width="0.08">1.5</text>
<text transform="translate(202.00,169.40) rotate(-90)" font-size="5.4" text-anchor="middle" fill="#333" stroke="#333" stroke-width="0.08">Median</text>
<rect x="355.5" y="10.8" width="75.2" height="63.2" fill="#fff" stroke="#333" stroke-width="1.1"/>
<text transform="translate(395.70,21.80)" font-size="8.4" text-anchor="middle" fill="#1a1a1a" stroke="#1a1a1a" stroke-width="0.22">Pre-culture:</text>
<text transform="translate(395.60,37.30)" font-size="8.4" text-anchor="middle" fill="#1a1a1a" stroke="#1a1a1a" stroke-width="0.22">4% glucose</text>
<rect x="368.45" y="48.3" width="4.1" height="4.2" fill="#fbb3c6" stroke="#f5407c" stroke-width="0.95"/>
<text transform="translate(374.40,53.50)" font-size="8.4" fill="#1a1a1a" stroke="#1a1a1a" stroke-width="0.22">wt</text>
<rect x="368.45" y="63.9" width="4.1" height="4.3" fill="#a9dcf3" stroke="#27a6e6" stroke-width="0.95"/>
<text transform="translate(374.40,69.00)" font-size="8.4" fill="#1a1a1a" stroke="#1a1a1a" stroke-width="0.22">+SUC2</text>
<rect x="355.5" y="152.9" width="72.0" height="56.7" fill="#fff" stroke="#444" stroke-width="1.2"/>
<text transform="translate(369.20,163.00)" font-size="8.4" fill="#1a1a1a" stroke="#1a1a1a" stroke-width="0.22">Preculture:</text>
<text transform="translate(369.40,177.70)" font-size="8.4" fill="#1a1a1a" stroke="#1a1a1a" stroke-width="0.22">1% galactose</text>
<rect x="363.2" y="186.3" width="4.1" height="4.2" fill="#fbb3c6" stroke="#f5407c" stroke-width="0.95"/>
<text transform="translate(369.10,191.50)" font-size="8.4" fill="#1a1a1a" stroke="#1a1a1a" stroke-width="0.22">wt</text>
<rect x="363.2" y="200.9" width="4.1" height="4.2" fill="#a9dcf3" stroke="#27a6e6" stroke-width="0.95"/>
<text transform="translate(369.10,205.80)" font-size="8.4" fill="#1a1a1a" stroke="#1a1a1a" stroke-width="0.22">+SUC2</text>
<text transform="translate(193.75,267.50) rotate(-90)" font-size="9.6" text-anchor="end" fill="#1a1a1a" stroke="#1a1a1a" stroke-width="0.22">0</text>
<text transform="translate(243.68,267.50) rotate(-90)" font-size="9.6" text-anchor="end" fill="#1a1a1a" stroke="#1a1a1a" stroke-width="0.22">0.5</text>
<text transform="translate(293.60,267.50) rotate(-90)" font-size="9.6" text-anchor="end" fill="#1a1a1a" stroke="#1a1a1a" stroke-width="0.22">1</text>
<text transform="translate(343.52,267.50) rotate(-90)" font-size="9.6" text-anchor="end" fill="#1a1a1a" stroke="#1a1a1a" stroke-width="0.22">1.5</text>
<text transform="translate(393.45,267.50) rotate(-90)" font-size="9.6" text-anchor="end" fill="#1a1a1a" stroke="#1a1a1a" stroke-width="0.22">2</text>
<text x="232.6" y="292.3" font-size="9.7" fill="#1a1a1a"><tspan font-style="italic">HXT2</tspan> expression (Log<tspan font-size="6.3" dy="2.2">10</tspan><tspan dy="-2.2"> RFU)</tspan></text>
<text transform="translate(441.40,17.20) scale(1.0,1.12)" font-size="9" fill="#000" stroke="#000" stroke-width="0.22" font-weight="bold">c</text>
<line x1="468.6" y1="96.5" x2="680" y2="96.5" stroke="#c2c2c2" stroke-width="1" stroke-dasharray="5.2,2.1"/>
<line x1="468.6" y1="99.5" x2="680" y2="99.5" stroke="#c4c4c4" stroke-width="1"/>
<line x1="468.6" y1="102.5" x2="680" y2="102.5" stroke="#c2c2c2" stroke-width="1" stroke-dasharray="5.2,2.1"/>
<line x1="467.8" y1="15" x2="467.8" y2="253" stroke="#8a8a8a" stroke-width="1.4"/>
<line x1="467.2" y1="252.9" x2="681.2" y2="252.9" stroke="#444" stroke-width="1.1"/>
<line x1="467.90" y1="252.9" x2="467.90" y2="255.8" stroke="#444" stroke-width="1"/>
<text transform="translate(467.90,268.20)" font-size="9.7" text-anchor="middle" fill="#1a1a1a" stroke="#1a1a1a" stroke-width="0.22">0</text>
<line x1="510.52" y1="252.9" x2="510.52" y2="255.8" stroke="#444" stroke-width="1"/>
<text transform="translate(510.52,268.20)" font-size="9.7" text-anchor="middle" fill="#1a1a1a" stroke="#1a1a1a" stroke-width="0.22">0.2</text>
<line x1="553.14" y1="252.9" x2="553.14" y2="255.8" stroke="#444" stroke-width="1"/>
<text transform="translate(553.14,268.20)" font-size="9.7" text-anchor="middle" fill="#1a1a1a" stroke="#1a1a1a" stroke-width="0.22">0.4</text>
<line x1="595.76" y1="252.9" x2="595.76" y2="255.8" stroke="#444" stroke-width="1"/>
<text transform="translate(595.76,268.20)" font-size="9.7" text-anchor="middle" fill="#1a1a1a" stroke="#1a1a1a" stroke-width="0.22">0.6</text>
<line x1="638.38" y1="252.9" x2="638.38" y2="255.8" stroke="#444" stroke-width="1"/>
<text transform="translate(638.38,268.20)" font-size="9.7" text-anchor="middle" fill="#1a1a1a" stroke="#1a1a1a" stroke-width="0.22">0.8</text>
<line x1="681.00" y1="252.9" x2="681.00" y2="255.8" stroke="#444" stroke-width="1"/>
<text transform="translate(681.00,268.20)" font-size="9.7" text-anchor="middle" fill="#1a1a1a" stroke="#1a1a1a" stroke-width="0.22">1</text>
<line x1="465.8" y1="204.49" x2="467.8" y2="204.49" stroke="#222" stroke-width="0.9"/>
<line x1="465.8" y1="176.18" x2="467.8" y2="176.18" stroke="#222" stroke-width="0.9"/>
<line x1="465.8" y1="156.09" x2="467.8" y2="156.09" stroke="#222" stroke-width="0.9"/>
<line x1="465.8" y1="140.51" x2="467.8" y2="140.51" stroke="#222" stroke-width="0.9"/>
<line x1="465.8" y1="127.77" x2="467.8" y2="127.77" stroke="#222" stroke-width="0.9"/>
<line x1="465.8" y1="117.01" x2="467.8" y2="117.01" stroke="#222" stroke-width="0.9"/>
<line x1="465.8" y1="107.68" x2="467.8" y2="107.68" stroke="#222" stroke-width="0.9"/>
<line x1="465.8" y1="99.46" x2="467.8" y2="99.46" stroke="#222" stroke-width="0.9"/>
<line x1="465.8" y1="43.69" x2="467.8" y2="43.69" stroke="#222" stroke-width="0.9"/>
<line x1="465.8" y1="15.38" x2="467.8" y2="15.38" stroke="#222" stroke-width="0.9"/>
<line x1="465.2" y1="253.30" x2="471.2" y2="253.30" stroke="#222" stroke-width="0.9"/>
<line x1="465.2" y1="92.50" x2="471.2" y2="92.50" stroke="#222" stroke-width="0.9"/>
<text transform="translate(459.60,95.40)" font-size="9.4" text-anchor="end" fill="#1a1a1a" stroke="#1a1a1a" stroke-width="0.22">10</text>
<text transform="translate(459.90,257.00)" font-size="9.4" text-anchor="end" fill="#1a1a1a" stroke="#1a1a1a" stroke-width="0.22">1</text>
<text transform="translate(574.90,288.60)" font-size="11.2" text-anchor="middle" fill="#1a1a1a" stroke="#1a1a1a" stroke-width="0.22">Initial frequency of producer</text>
<g font-family="Liberation Serif, serif" font-style="italic" fill="#1a1a1a"><text transform="translate(449.8,157.9) rotate(-90)" font-size="8.8">D</text><text transform="translate(453.4,151.3) rotate(-90)" font-size="6" textLength="14.6" lengthAdjust="spacingAndGlyphs">Diff</text><text transform="translate(446.7,150.8) rotate(-90)" font-size="6.7" textLength="14.2" lengthAdjust="spacingAndGlyphs">max</text></g>
<path d="M470.03,242.40 L478.55,207.90 L489.21,180.60 L521.17,142.40 L574.45,117.40 L627.72,106.80 L681.00,98.80" fill="none" stroke="#f45d90" stroke-opacity="1" stroke-width="1.3" stroke-linejoin="round"/>
<path d="M470.03,242.00 L478.55,207.80 L489.21,180.40 L521.17,142.40 L574.45,114.30 L627.72,98.30 L681.00,90.40" fill="none" stroke="rgb(240,130,40)" stroke-opacity="0.6" stroke-width="1.3" stroke-linejoin="round"/>
<path d="M470.03,225.10 L478.55,164.70 L489.21,134.20 L521.17,103.10 L574.45,78.60 L627.72,66.70 L681.00,58.10" fill="none" stroke="#84cbef" stroke-opacity="1" stroke-width="1.3" stroke-linejoin="round"/>
<path d="M470.03,238.29 L473.92,244.58 L466.15,244.58 Z" fill="rgb(242,70,130)" fill-opacity="0.42" stroke="none" stroke-width="0.6"/>
<path d="M470.03,240.09 L473.92,246.38 L466.15,246.38 Z" fill="rgb(242,70,130)" fill-opacity="0.42" stroke="none" stroke-width="0.6"/>
<path d="M470.03,241.89 L473.92,248.18 L466.15,248.18 Z" fill="rgb(242,70,130)" fill-opacity="0.42" stroke="none" stroke-width="0.6"/>
<path d="M478.55,204.09 L482.44,210.38 L474.67,210.38 Z" fill="rgb(242,70,130)" fill-opacity="0.42" stroke="none" stroke-width="0.6"/>
<path d="M478.55,204.49 L482.44,210.78 L474.67,210.78 Z" fill="rgb(242,70,130)" fill-opacity="0.42" stroke="none" stroke-width="0.6"/>
<path d="M478.55,205.09 L482.44,211.38 L474.67,211.38 Z" fill="rgb(242,70,130)" fill-opacity="0.42" stroke="none" stroke-width="0.6"/>
<path d="M489.21,179.89 L493.09,186.18 L485.32,186.18 Z" fill="rgb(242,70,130)" fill-opacity="0.42" stroke="none" stroke-width="0.6"/>
<path d="M489.21,180.49 L493.09,186.78 L485.32,186.78 Z" fill="rgb(242,70,130)" fill-opacity="0.42" stroke="none" stroke-width="0.6"/>
<path d="M489.21,181.09 L493.09,187.38 L485.32,187.38 Z" fill="rgb(242,70,130)" fill-opacity="0.42" stroke="none" stroke-width="0.6"/>
<path d="M521.17,139.29 L525.06,145.58 L517.29,145.58 Z" fill="rgb(242,70,130)" fill-opacity="0.42" stroke="none" stroke-width="0.6"/>
<path d="M521.17,140.09 L525.06,146.38 L517.29,146.38 Z" fill="rgb(242,70,130)" fill-opacity="0.42" stroke="none" stroke-width="0.6"/>
<path d="M521.17,140.89 L525.06,147.18 L517.29,147.18 Z" fill="rgb(242,70,130)" fill-opacity="0.42" stroke="none" stroke-width="0.6"/>
<path d="M574.45,117.48 L578.33,123.78 L570.56,123.78 Z" fill="rgb(242,70,130)" fill-opacity="0.42" stroke="none" stroke-width="0.6"/>
<path d="M574.45,118.08 L578.33,124.38 L570.56,124.38 Z" fill="rgb(242,70,130)" fill-opacity="0.42" stroke="none" stroke-width="0.6"/>
<path d="M574.45,119.08 L578.33,125.38 L570.56,125.38 Z" fill="rgb(242,70,130)" fill-opacity="0.42" stroke="none" stroke-width="0.6"/>
<path d="M627.72,105.69 L631.61,111.98 L623.84,111.98 Z" fill="rgb(242,70,130)" fill-opacity="0.42" stroke="none" stroke-width="0.6"/>
<path d="M627.72,106.89 L631.61,113.18 L623.84,113.18 Z" fill="rgb(242,70,130)" fill-opacity="0.42" stroke="none" stroke-width="0.6"/>
<path d="M627.72,107.69 L631.61,113.98 L623.84,113.98 Z" fill="rgb(242,70,130)" fill-opacity="0.42" stroke="none" stroke-width="0.6"/>
<path d="M681.00,96.48 L684.88,102.78 L677.12,102.78 Z" fill="rgb(242,70,130)" fill-opacity="0.42" stroke="none" stroke-width="0.6"/>
<path d="M681.00,97.48 L684.88,103.78 L677.12,103.78 Z" fill="rgb(242,70,130)" fill-opacity="0.42" stroke="none" stroke-width="0.6"/>
<path d="M681.00,98.69 L684.88,104.98 L677.12,104.98 Z" fill="rgb(242,70,130)" fill-opacity="0.42" stroke="none" stroke-width="0.6"/>
<path d="M470.03,236.20 L473.83,240.00 L470.03,243.80 L466.23,240.00 Z" fill="rgb(240,130,40)" fill-opacity="0.5"/>
<path d="M470.03,238.20 L473.83,242.00 L470.03,245.80 L466.23,242.00 Z" fill="rgb(240,130,40)" fill-opacity="0.5"/>
<path d="M470.03,240.40 L473.83,244.20 L470.03,248.00 L466.23,244.20 Z" fill="rgb(240,130,40)" fill-opacity="0.5"/>
<path d="M478.55,204.00 L482.35,207.80 L478.55,211.60 L474.75,207.80 Z" fill="rgb(240,130,40)" fill-opacity="0.5"/>
<path d="M478.55,204.40 L482.35,208.20 L478.55,212.00 L474.75,208.20 Z" fill="rgb(240,130,40)" fill-opacity="0.5"/>
<path d="M478.55,204.80 L482.35,208.60 L478.55,212.40 L474.75,208.60 Z" fill="rgb(240,130,40)" fill-opacity="0.5"/>
<path d="M489.21,176.00 L493.01,179.80 L489.21,183.60 L485.41,179.80 Z" fill="rgb(240,130,40)" fill-opacity="0.5"/>
<path d="M489.21,176.30 L493.01,180.10 L489.21,183.90 L485.41,180.10 Z" fill="rgb(240,130,40)" fill-opacity="0.5"/>
<path d="M489.21,176.60 L493.01,180.40 L489.21,184.20 L485.41,180.40 Z" fill="rgb(240,130,40)" fill-opacity="0.5"/>
<path d="M521.17,138.50 L524.97,142.30 L521.17,146.10 L517.38,142.30 Z" fill="rgb(240,130,40)" fill-opacity="0.5"/>
<path d="M521.17,138.80 L524.97,142.60 L521.17,146.40 L517.38,142.60 Z" fill="rgb(240,130,40)" fill-opacity="0.5"/>
<path d="M521.17,139.10 L524.97,142.90 L521.17,146.70 L517.38,142.90 Z" fill="rgb(240,130,40)" fill-opacity="0.5"/>
<path d="M574.45,110.60 L578.25,114.40 L574.45,118.20 L570.65,114.40 Z" fill="rgb(240,130,40)" fill-opacity="0.5"/>
<path d="M574.45,110.90 L578.25,114.70 L574.45,118.50 L570.65,114.70 Z" fill="rgb(240,130,40)" fill-opacity="0.5"/>
<path d="M574.45,111.20 L578.25,115.00 L574.45,118.80 L570.65,115.00 Z" fill="rgb(240,130,40)" fill-opacity="0.5"/>
<path d="M627.72,84.70 L631.52,88.50 L627.72,92.30 L623.92,88.50 Z" fill="rgb(240,130,40)" fill-opacity="0.5"/>
<path d="M627.72,98.50 L631.52,102.30 L627.72,106.10 L623.92,102.30 Z" fill="rgb(240,130,40)" fill-opacity="0.5"/>
<path d="M627.72,98.90 L631.52,102.70 L627.72,106.50 L623.92,102.70 Z" fill="rgb(240,130,40)" fill-opacity="0.5"/>
<path d="M681.00,82.10 L684.80,85.90 L681.00,89.70 L677.20,85.90 Z" fill="rgb(240,130,40)" fill-opacity="0.5"/>
<path d="M681.00,88.30 L684.80,92.10 L681.00,95.90 L677.20,92.10 Z" fill="rgb(240,130,40)" fill-opacity="0.5"/>
<path d="M681.00,88.70 L684.80,92.50 L681.00,96.30 L677.20,92.50 Z" fill="rgb(240,130,40)" fill-opacity="0.5"/>
<circle cx="470.03" cy="224.8" r="3.45" fill="rgb(60,170,230)" fill-opacity="0.33" stroke="rgb(60,170,230)" stroke-opacity="0.6" stroke-width="0.8"/>
<circle cx="470.03" cy="225.1" r="3.45" fill="rgb(60,170,230)" fill-opacity="0.33" stroke="rgb(60,170,230)" stroke-opacity="0.6" stroke-width="0.8"/>
<circle cx="470.03" cy="225.4" r="3.45" fill="rgb(60,170,230)" fill-opacity="0.33" stroke="rgb(60,170,230)" stroke-opacity="0.6" stroke-width="0.8"/>
<circle cx="478.55" cy="162.3" r="3.45" fill="rgb(60,170,230)" fill-opacity="0.33" stroke="rgb(60,170,230)" stroke-opacity="0.6" stroke-width="0.8"/>
<circle cx="478.55" cy="162.8" r="3.45" fill="rgb(60,170,230)" fill-opacity="0.33" stroke="rgb(60,170,230)" stroke-opacity="0.6" stroke-width="0.8"/>
<circle cx="478.55" cy="170.2" r="3.45" fill="rgb(60,170,230)" fill-opacity="0.33" stroke="rgb(60,170,230)" stroke-opacity="0.6" stroke-width="0.8"/>
<circle cx="489.21" cy="131.5" r="3.45" fill="rgb(60,170,230)" fill-opacity="0.33" stroke="rgb(60,170,230)" stroke-opacity="0.6" stroke-width="0.8"/>
<circle cx="489.21" cy="132.2" r="3.45" fill="rgb(60,170,230)" fill-opacity="0.33" stroke="rgb(60,170,230)" stroke-opacity="0.6" stroke-width="0.8"/>
<circle cx="489.21" cy="137.7" r="3.45" fill="rgb(60,170,230)" fill-opacity="0.33" stroke="rgb(60,170,230)" stroke-opacity="0.6" stroke-width="0.8"/>
<circle cx="521.17" cy="99.0" r="3.45" fill="rgb(60,170,230)" fill-opacity="0.33" stroke="rgb(60,170,230)" stroke-opacity="0.6" stroke-width="0.8"/>
<circle cx="521.17" cy="101.5" r="3.45" fill="rgb(60,170,230)" fill-opacity="0.33" stroke="rgb(60,170,230)" stroke-opacity="0.6" stroke-width="0.8"/>
<circle cx="521.17" cy="108.2" r="3.45" fill="rgb(60,170,230)" fill-opacity="0.33" stroke="rgb(60,170,230)" stroke-opacity="0.6" stroke-width="0.8"/>
<circle cx="574.45" cy="76.8" r="3.45" fill="rgb(60,170,230)" fill-opacity="0.33" stroke="rgb(60,170,230)" stroke-opacity="0.6" stroke-width="0.8"/>
<circle cx="574.45" cy="78.6" r="3.45" fill="rgb(60,170,230)" fill-opacity="0.33" stroke="rgb(60,170,230)" stroke-opacity="0.6" stroke-width="0.8"/>
<circle cx="574.45" cy="80.6" r="3.45" fill="rgb(60,170,230)" fill-opacity="0.33" stroke="rgb(60,170,230)" stroke-opacity="0.6" stroke-width="0.8"/>
<circle cx="627.72" cy="65.3" r="3.45" fill="rgb(60,170,230)" fill-opacity="0.33" stroke="rgb(60,170,230)" stroke-opacity="0.6" stroke-width="0.8"/>
<circle cx="627.72" cy="66.7" r="3.45" fill="rgb(60,170,230)" fill-opacity="0.33" stroke="rgb(60,170,230)" stroke-opacity="0.6" stroke-width="0.8"/>
<circle cx="627.72" cy="68.4" r="3.45" fill="rgb(60,170,230)" fill-opacity="0.33" stroke="rgb(60,170,230)" stroke-opacity="0.6" stroke-width="0.8"/>
<circle cx="681.00" cy="56.0" r="3.45" fill="rgb(60,170,230)" fill-opacity="0.33" stroke="rgb(60,170,230)" stroke-opacity="0.6" stroke-width="0.8"/>
<circle cx="681.00" cy="57.6" r="3.45" fill="rgb(60,170,230)" fill-opacity="0.33" stroke="rgb(60,170,230)" stroke-opacity="0.6" stroke-width="0.8"/>
<circle cx="681.00" cy="60.6" r="3.45" fill="rgb(60,170,230)" fill-opacity="0.33" stroke="rgb(60,170,230)" stroke-opacity="0.6" stroke-width="0.8"/>
<line x1="596.4" y1="172" x2="606.2" y2="172" stroke="#f2558a" stroke-opacity="0.7" stroke-width="1"/>
<path d="M602.40,169.15 L605.55,174.25 L599.25,174.25 Z" fill="rgb(242,70,130)" fill-opacity="0.55" stroke="none" stroke-width="0.6"/>
<text transform="translate(607.50,175.40)" font-size="9.8" fill="#1a1a1a" stroke="#1a1a1a" stroke-width="0.22">wt</text>
<line x1="596.2" y1="193.6" x2="606.2" y2="193.6" stroke="#74c6ee" stroke-width="1"/>
<circle cx="602.4" cy="193.6" r="2.8" fill="#8fd0f2" fill-opacity="0.6" stroke="#55b8e8" stroke-width="0.7"/>
<text transform="translate(607.50,197.00)" font-size="9.8" fill="#1a1a1a" stroke="#1a1a1a" stroke-width="0.22">+SUC2</text>
<line x1="596.4" y1="215.6" x2="606.2" y2="215.6" stroke="rgb(240,130,40)" stroke-opacity="0.6" stroke-width="1"/>
<path d="M602.40,212.60 L605.40,215.60 L602.40,218.60 L599.40,215.60 Z" fill="rgb(240,130,40)" fill-opacity="0.6"/>
<text transform="translate(607.50,219.00)" font-size="9.8" fill="#1a1a1a" stroke="#1a1a1a" stroke-width="0.22">+HXT7</text>
</svg>
</div></body></html>
